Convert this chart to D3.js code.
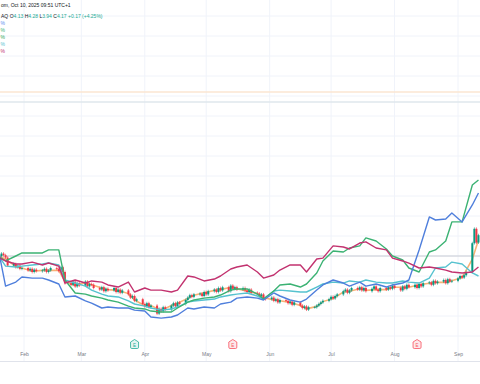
<!DOCTYPE html>
<html>
<head>
<meta charset="utf-8">
<script src="https://cdn.jsdelivr.net/npm/d3@7"></script>
<style>
  html, body { margin: 0; padding: 0; background: #fff; }
  svg { display: block; font-family: "Liberation Sans", Arial, sans-serif; }
</style>
</head>
<body>
<div id="chart"></div>
<script>
// main symbol closes (% change), one row per trading week, Mon..Fri, from Jan 20 2025
var closeWeeks = [
  [0, 1.5, 0.5, -1, -6],
  [-5, -7, -6, -8, -7.5],
  [-9, -8, -10, -8.5, -9.5],
  [-9, -8, -10, -9, -7.5],
  [-8, -9.5, -7, -10, -17],
  [-18, -16, -19, -17, -18.5],
  [-16, -19, -17.5, -18, -20],
  [-21, -19.5, -22, -20.5, -21.5],
  [-20, -22.5, -21, -23, -21.5],
  [-24, -26, -25, -28, -27],
  [-30, -31.5, -29.5, -32, -31],
  [-36, -33, -34.5, -32, -33.5],
  [-31, -29.5, -31.5, -29, -30],
  [-27.5, -26, -24.5, -25.5, -24],
  [-23.5, -25, -22.5, -24, -22],
  [-21, -22.5, -20, -21.5, -19.5],
  [-22, -18.5, -20.5, -19.5, -21],
  [-20, -21.5, -22.5, -21, -23],
  [-23.5, -25, -24, -26.5, -27],
  [-26, -28, -27, -29, -27.5],
  [-28, -29.5, -28.5, -30.5, -29],
  [-31, -32.5, -31.5, -33.5, -32],
  [-32, -31, -30, -29, -28],
  [-27, -25.5, -26.5, -25, -24],
  [-22, -21, -23, -21.5, -20],
  [-21, -19.5, -21.5, -20, -22],
  [-20.5, -19, -21, -22, -20],
  [-21, -19.5, -20.5, -18.5, -20],
  [-21.5, -19, -20.5, -18, -19.5],
  [-18, -20, -17.5, -19, -17],
  [-16.5, -18, -15.5, -17, -16],
  [-15, -17, -14.5, -16, -15.5],
  [-14, -12.5, -13.5, -12, -10],
  [8, 17, 8.4, 13]
];

// comparison series, one value every 3rd trading day (% change)
var magentaVals = [-1.3,-3.1,-5,-5,-3.8,-5.6,-4.4,-6.3,-16.9,-15,-16.9,-15.6,-16.3,-18.1,-19.4,-16.3,-22.5,-20,-21.3,-21.3,-22.5,-21.3,-12.5,-13.1,-15.6,-14.4,-12.5,-8.1,-6.9,-5.6,-10,-13.8,-11.9,-8.8,-5.6,-5.6,-10,-1.9,-1.3,6.3,5.6,4.4,8.1,8.8,5,3.8,-1.3,-3.1,-4.4,-7.5,-6.9,-7.5,-8.8,-10,-10.6,-10,-6.9];
var blueVals = [0.6,-18.8,-16.3,-13.1,-13.8,-13.8,-15,-17.5,-25.6,-25,-28.1,-29.4,-32.5,-31.9,-32.5,-32.5,-33.8,-34.4,-38.1,-38.8,-38.1,-36.9,-32.5,-33.1,-31.9,-32.5,-30,-28.8,-26.3,-25.6,-26.3,-27.5,-23.1,-25,-27.5,-28.8,-26.9,-21.3,-18.1,-15,-16.9,-18.8,-16.3,-18.8,-17.5,-19.4,-18.1,-16.9,-15,3.8,24.4,22.5,23.1,26.9,21.3,31.9,39.4];
var greenVals = [-0.6,-3.1,0,1.9,1.9,1.9,3.8,3.8,-15,-23.1,-23.8,-25,-26.3,-27.5,-28.8,-31.3,-32.5,-33.1,-34.4,-35,-35,-32.5,-28.8,-27.5,-26.3,-25.6,-24.4,-21.3,-20.6,-20.6,-23.8,-26.9,-21.9,-18.1,-17.5,-19.4,-17.5,-10.6,-3.1,3.1,2.5,5,6.3,11.3,9.4,4.4,0,-2.5,-7.5,-10,2.5,3.8,9.4,21.3,21.3,44.4,47.5];
var tealVals = [-0.6,-6.3,-6.9,-6.3,-5.6,-5,-4.4,-5.6,-15,-16.9,-18.8,-21.3,-23.8,-25,-25.6,-28.1,-30,-31.3,-32.5,-33.8,-33.1,-31.9,-28.8,-28.1,-27.5,-26.9,-25.6,-24.4,-23.8,-23.1,-25,-26.9,-21.9,-21.3,-21.9,-22.5,-22.5,-19.4,-17.5,-16.3,-16.9,-15.6,-16.3,-15,-16.3,-16.9,-16.9,-15.6,-16.3,-16.9,-13.8,-7.5,-6.9,-3.8,-5,-10.6,-12.5];
var orangeVals = [0,-2,-6.5,-7.5,-9.5,-9,-9,-9,-16,-18.5,-16.5,-18,-20,-21,-21.5,-23.5,-27.5,-31,-31,-34,-31,-29.5,-26.5,-24.5,-23,-21.5,-21,-19.5,-20.5,-22,-23.5,-26,-27.5,-28,-29,-31,-33,-31.5,-28.5,-26.5,-22.5,-22,-20.5,-21.5,-21,-21,-19.5,-19.5,-19.5,-18,-17,-16.5,-16.5,-15.5,-13.5,-2,10];

var priceLevels = [102.5, 96.3];
var yTicks = [-50, -37.5, -25, -12.5, 0, 12.5, 25, 37.5, 50, 62.5, 75, 87.5, 100, 112.5, 125, 137.5, 150];
var eventDates = ["2025-03-27", "2025-05-14", "2025-08-12"];
var eventKinds = ["up", "down", "down"];

// legend texts, as far as the cropped screenshot shows them
var headerText = "om, Oct 10, 2025 09:51 UTC+1";
var symbolTail = "AQ";
var ohlcNames = ["O", "H", "L", "C"];
var ohlcValues = ["4.13", "4.28", "3.94", "4.17"];
var changeText = "+0.17 (+4.25%)";
var legendColors = ["#5b8def", "#3bb273", "#34a853", "#56c2cf", "#c2326f"];

var W = 480, H = 384, plotBottom = 361;

var svg = d3.select("#chart").append("svg")
    .attr("width", W)
    .attr("height", H);

var x = d3.scaleUtc()
    .domain([Date.UTC(2025, 1, 1), Date.UTC(2025, 8, 1)])
    .range([24, 458]);
var y = d3.scaleLinear().domain([0, 100]).range([256, 96]);

// trading days
var bars = [];
closeWeeks.forEach(function(week, w) {
  week.forEach(function(c, d) {
    bars.push({date: new Date(Date.UTC(2025, 0, 20 + 7 * w + d)), close: c});
  });
});
bars.forEach(function(b, i) {
  b.open = i ? bars[i - 1].close : b.close;
});
var sampleDates = bars.filter(function(b, i) { return i % 3 === 0; })
    .map(function(b) { return b.date; });

svg.append("defs").append("clipPath").attr("id", "plot")
  .append("rect").attr("width", W).attr("height", plotBottom);

// grid
var monthTicks = x.copy().domain([x.invert(0), x.invert(W)]).ticks(d3.utcMonth);
svg.append("g").selectAll("line").data(monthTicks).enter().append("line")
    .attr("x1", function(d) { return x(d); })
    .attr("x2", function(d) { return x(d); })
    .attr("y1", 0).attr("y2", plotBottom)
    .attr("stroke", "#f0f3fa");
svg.append("g").selectAll("line").data(yTicks).enter().append("line")
    .attr("x1", 0).attr("x2", W)
    .attr("y1", function(d) { return y(d); })
    .attr("y2", function(d) { return y(d); })
    .attr("stroke", "#f0f3fa");

svg.append("line")
    .attr("x1", 0).attr("x2", W)
    .attr("y1", plotBottom + 0.5).attr("y2", plotBottom + 0.5)
    .attr("stroke", "#e0e3eb");

// level lines near top
svg.selectAll(".level").data(priceLevels).enter().append("line")
    .attr("class", "level")
    .attr("x1", 0).attr("x2", W)
    .attr("y1", function(d) { return y(d); })
    .attr("y2", function(d) { return y(d); })
    .attr("stroke", function(d, i) { return i ? "#dfe7ec" : "#fbe6d2"; })
    .attr("stroke-width", 1.5);

// zero baseline
svg.append("line")
    .attr("x1", 0).attr("x2", W)
    .attr("y1", y(0)).attr("y2", y(0))
    .attr("stroke", "#c9ccd4");

var plot = svg.append("g").attr("clip-path", "url(#plot)");

var line = d3.line()
    .x(function(d, i) { return x(sampleDates[i]); })
    .y(function(d) { return y(d); });

plot.append("path").datum(orangeVals)
    .attr("d", line).attr("fill", "none")
    .attr("stroke", "#f6a45e").attr("stroke-width", 1.6).attr("opacity", 0.85);

// candles
var wickPad = 0.9;
var candle = plot.append("g").selectAll("g").data(bars).enter().append("g");
candle.append("line")
    .attr("x1", function(d) { return x(d.date); })
    .attr("x2", function(d) { return x(d.date); })
    .attr("y1", function(d) { return y(Math.max(d.open, d.close) + wickPad); })
    .attr("y2", function(d) { return y(Math.min(d.open, d.close) - wickPad); })
    .attr("stroke", function(d) { return d.close >= d.open ? "#089981" : "#f23645"; })
    .attr("stroke-width", 0.6);
candle.append("rect")
    .attr("x", function(d) { return x(d.date) - 1; })
    .attr("width", 2)
    .attr("y", function(d) { return y(Math.max(d.open, d.close)); })
    .attr("height", function(d) { return Math.max(0.8, Math.abs(y(d.open) - y(d.close))); })
    .attr("fill", function(d) { return d.close >= d.open ? "#089981" : "#f23645"; });

var series = [
  {vals: tealVals, color: "#56c2cf"},
  {vals: greenVals, color: "#3bb273"},
  {vals: blueVals, color: "#4f7fdc"},
  {vals: magentaVals, color: "#c2326f"}
];
plot.selectAll(".series").data(series).enter().append("path")
    .attr("class", "series")
    .attr("d", function(s) { return line(s.vals); })
    .attr("fill", "none")
    .attr("stroke", function(s) { return s.color; })
    .attr("stroke-width", 1.4)
    .attr("stroke-linejoin", "round");

// time axis
var xAxis = d3.axisBottom(x.copy().domain([x.invert(0), x.invert(W)]).range([0, W]))
    .ticks(d3.utcMonth)
    .tickFormat(d3.utcFormat("%b"))
    .tickSize(0)
    .tickPadding(0);
var ax = svg.append("g").attr("transform", "translate(0,352)").call(xAxis);
ax.select(".domain").remove();
ax.selectAll("text").attr("fill", "#787b86").attr("font-size", 5)
    .attr("font-family", "Liberation Sans, Arial, sans-serif");

// earnings markers
var parse = d3.utcParse("%Y-%m-%d");
var ev = svg.selectAll(".ev").data(eventDates).enter().append("g")
    .attr("class", "ev")
    .attr("transform", function(d) { return "translate(" + x(parse(d)) + ",344)"; });
ev.append("path")
    .attr("d", "M0,-4.5L4,-2L4,3.2Q4,4.5 2.8,4.5L-2.8,4.5Q-4,4.5 -4,3.2L-4,-2Z")
    .attr("fill", function(d, i) { return eventKinds[i] === "up" ? "#e3f4f1" : "#fde8ea"; })
    .attr("stroke", function(d, i) { return eventKinds[i] === "up" ? "#22ab94" : "#f7525f"; })
    .attr("stroke-width", 0.8);
ev.append("text")
    .attr("y", 2.6)
    .attr("text-anchor", "middle")
    .attr("font-size", 4.5)
    .attr("fill", function(d, i) { return eventKinds[i] === "up" ? "#22ab94" : "#f7525f"; })
    .text("E");

// header / legend
svg.append("text")
    .attr("x", 1).attr("y", 7)
    .attr("font-size", 5)
    .attr("fill", "#131722")
    .text(headerText);

var l2 = svg.append("text")
    .attr("x", 1).attr("y", 18)
    .attr("font-size", 5)
    .attr("fill", "#131722");
l2.append("tspan").text(symbolTail + "  ");
ohlcNames.forEach(function(n, i) {
  l2.append("tspan").attr("fill", "#131722").text(n);
  l2.append("tspan").attr("fill", "#22ab94").text(ohlcValues[i] + "  ");
});
l2.append("tspan").attr("fill", "#22ab94").text(changeText);

svg.selectAll(".leg").data(legendColors).enter().append("text")
    .attr("class", "leg")
    .attr("x", 0.5)
    .attr("y", function(d, i) { return 25 + i * 7; })
    .attr("font-size", 5)
    .attr("fill", function(d) { return d; })
    .text("%");
</script>
</body>
</html>
